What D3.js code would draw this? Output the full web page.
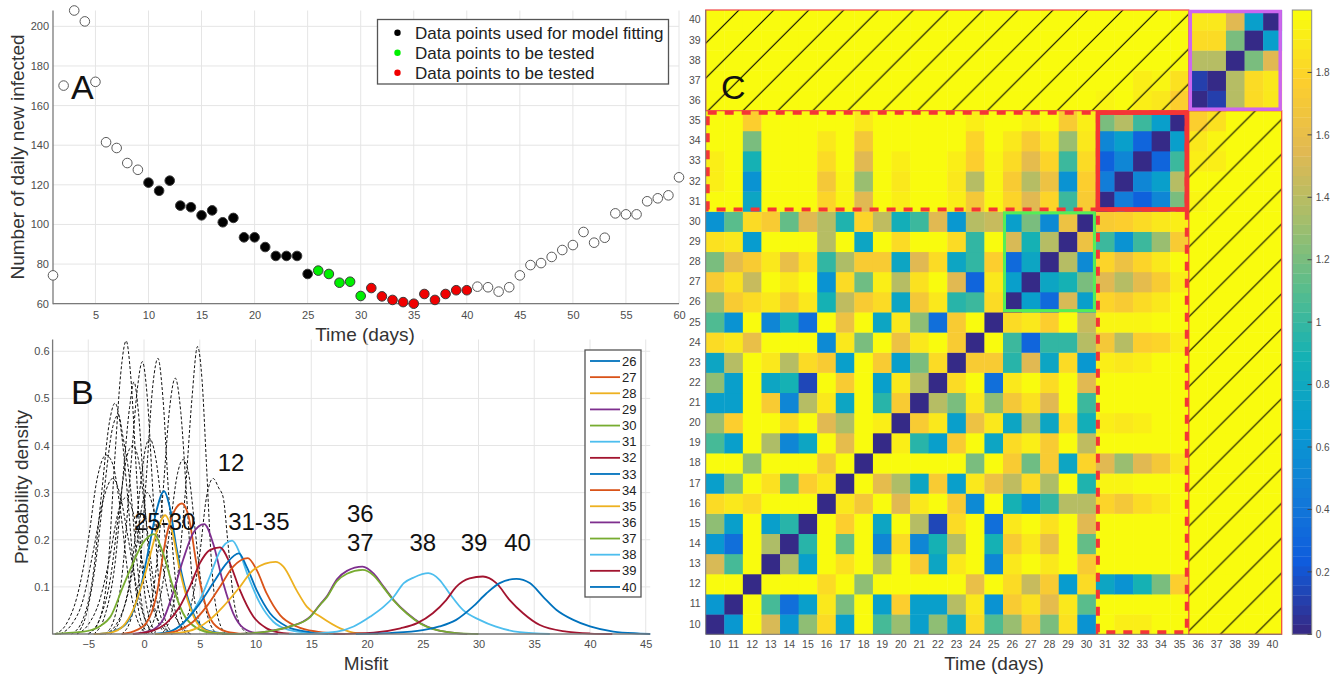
<!doctype html>
<html lang="en">
<head>
  <meta charset="utf-8">
  <title>Daily new infected, misfit densities and misfit matrix</title>
  <script src="https://d3js.org/d3.v7.min.js"></script>
<style>
body { margin: 0; background: #fff; }
svg { font-family: "Liberation Sans", Arial, sans-serif; }
</style>
</head>
<body>
<svg width="1343" height="679"></svg>
<script>

// ---- panel A data: daily new infected, days 1..60
let days_a = [1,2,3,4,5,6,7,8,9,10,11,12,13,14,15,16,17,18,19,20,21,22,23,24,25,26,27,28,29,30,
  31,32,33,34,35,36,37,38,39,40,41,42,43,44,45,46,47,48,49,50,51,52,53,54,55,56,57,58,59,60];
let new_infected = [74.3,170.1,208,202.5,172,141.5,138.6,131,127.6,121.1,117,122.1,109.5,108.7,104.6,
  107.1,101.1,103.3,93.5,93.5,88.6,84.1,84.1,84.1,75,76.7,75,70.6,71.1,63.9,67.9,63.7,61.9,60.8,60,
  64.9,61.9,64.9,66.8,66.8,68.6,68.3,66.1,68.3,74.3,79.5,80.5,83.6,87.1,89.6,96.2,90.8,93.3,105.6,
  105.1,105.1,111.7,113.2,114.7,123.8];
let fit_range = [10, 25];
let green_range = [26, 30];
let red_range = [31, 40];
let legend_a = ['Data points used for model fitting', 'Data points to be tested', 'Data points to be tested'];

// ---- panel B data: misfit densities [misfit, density]
let test_days = [26,27,28,29,30,31,32,33,34,35,36,37,38,39,40];
let test_curves = [
  [[-4,0],[-2.5,0.008],[-1.5,0.025],[-0.4,0.09],[0.5,0.19],[1.1,0.26],[1.8,0.303],[2.3,0.27],[2.9,0.185],[3.8,0.087],[4.7,0.03],[5.9,0.006],[8,0]],
  [[-2,0],[-1,0.005],[0.2,0.023],[1.1,0.08],[2.0,0.207],[2.7,0.26],[3.4,0.277],[4.0,0.249],[4.7,0.15],[5.3,0.08],[6.2,0.023],[7.4,0.005],[9,0]],
  [[-4.5,0],[-3,0.003],[-1.9,0.016],[-1.0,0.05],[0.2,0.136],[1.1,0.214],[1.9,0.252],[2.5,0.22],[3.2,0.136],[4.1,0.058],[5.0,0.016],[6.2,0.003],[8,0]],
  [[-1,0],[0.5,0.006],[1.7,0.03],[2.6,0.087],[3.5,0.157],[4.4,0.214],[5.4,0.233],[6.2,0.192],[7.1,0.108],[8.0,0.044],[8.9,0.013],[10.1,0.002],[12,0]],
  [[-8,0],[-7,0.002],[-5.4,0.005],[-4,0.016],[-3,0.037],[-1.9,0.1],[-1,0.15],[-0.1,0.193],[0.9,0.212],[1.7,0.172],[2.6,0.1],[3.5,0.044],[4.7,0.013],[6.2,0.002],[8,0]],
  [[1,0],[2.6,0.008],[3.8,0.03],[5.0,0.072],[5.9,0.122],[6.8,0.175],[7.9,0.198],[8.6,0.171],[9.35,0.122],[10.4,0.065],[11.6,0.026],[13.1,0.008],[14.9,0.002],[16.5,0]],
  [[-1,0],[0.5,0.005],[2.0,0.023],[3.2,0.058],[4.1,0.1],[5.0,0.15],[5.9,0.178],[6.8,0.184],[7.7,0.15],[8.6,0.093],[9.8,0.037],[11,0.012],[12.5,0.002],[14,0]],
  [[1,0],[2.6,0.008],[3.8,0.03],[5.0,0.065],[6.2,0.108],[7.4,0.15],[8.5,0.171],[9.2,0.143],[10.1,0.093],[11.3,0.044],[12.8,0.016],[14.6,0.005],[16.5,0.001],[18,0]],
  [[1.5,0],[2.9,0.006],[4.4,0.026],[5.6,0.058],[6.8,0.1],[8.0,0.143],[9.3,0.161],[10.1,0.136],[11.0,0.086],[12.2,0.04],[13.7,0.016],[15.5,0.005],[18,0]],
  [[1,0],[2.9,0.002],[4.7,0.012],[5.9,0.03],[7.1,0.058],[8.6,0.1],[9.8,0.136],[11.8,0.153],[12.5,0.143],[13.7,0.092],[14.6,0.058],[15.8,0.037],[17.6,0.012],[19.1,0.002],[21,0]],
  [[7,0],[9,0.001],[11,0.005],[13.1,0.016],[14.9,0.037],[15.8,0.063],[16.4,0.08],[17.3,0.116],[18.2,0.134],[19.6,0.143],[20.6,0.128],[21.5,0.1],[22.4,0.072],[23.6,0.044],[24.8,0.023],[26.3,0.008],[28,0.002],[29,0]],
  [[7,0],[9,0.001],[11,0.005],[13.1,0.016],[14.9,0.036],[15.8,0.062],[16.4,0.078],[17.3,0.112],[18.2,0.128],[19.6,0.136],[20.6,0.124],[21.5,0.098],[22.4,0.071],[23.6,0.043],[24.8,0.022],[26.3,0.008],[28,0.002],[30,0]],
  [[13,0],[15.2,0.001],[17.3,0.005],[18.8,0.016],[20.3,0.037],[21.5,0.058],[22.4,0.079],[23.3,0.108],[24.2,0.12],[25.5,0.129],[26.5,0.115],[27.4,0.086],[28.6,0.051],[30.1,0.03],[31.5,0.016],[33.7,0.004],[36.4,0]],
  [[17,0],[20.6,0.003],[23.0,0.012],[24.5,0.023],[25.9,0.044],[27.1,0.072],[28.0,0.1],[29.2,0.118],[30.4,0.122],[31.6,0.108],[32.8,0.072],[34,0.044],[35.5,0.019],[37.9,0.005],[40,0.001],[42,0]],
  [[19,0],[22,0.002],[25,0.008],[26.5,0.016],[28,0.03],[29.5,0.058],[30.7,0.086],[31.9,0.108],[33.4,0.117],[34.6,0.108],[35.8,0.079],[37,0.051],[38.5,0.03],[40,0.016],[42.1,0.005],[44.5,0.001],[45.4,0]]
];
// dashed densities of the fitting days
let fit_curves = [
  [[-5,0],[-4,0.03],[-3.2,0.15],[-2.6,0.38],[-2.1,0.55],[-1.6,0.622],[-1.2,0.55],[-0.7,0.35],[-0.2,0.15],[0.4,0.04],[1.2,0]],
  [[1.5,0],[2.3,0.03],[3.0,0.12],[3.7,0.3],[4.3,0.5],[4.8,0.61],[5.2,0.54],[5.6,0.36],[6.0,0.17],[6.5,0.05],[7.3,0]],
  [[-3.5,0],[-2.7,0.03],[-1.9,0.14],[-1.2,0.35],[-0.6,0.52],[-0.15,0.578],[0.3,0.5],[0.8,0.3],[1.3,0.12],[1.9,0.03],[2.7,0]],
  [[-2,0],[-1.2,0.03],[-0.4,0.13],[0.2,0.33],[0.8,0.53],[1.25,0.585],[1.7,0.5],[2.2,0.3],[2.8,0.12],[3.4,0.03],[4.2,0]],
  [[-4.5,0],[-3.5,0.04],[-2.6,0.15],[-1.9,0.33],[-1.3,0.48],[-0.9,0.535],[-0.5,0.47],[0,0.3],[0.6,0.12],[1.2,0.03],[2,0]],
  [[-0.5,0],[0.3,0.03],[1.0,0.12],[1.7,0.3],[2.3,0.48],[2.8,0.543],[3.3,0.47],[3.8,0.3],[4.3,0.12],[4.9,0.03],[5.6,0]],
  [[-6.5,0],[-5.5,0.03],[-4.6,0.12],[-3.8,0.3],[-3.1,0.45],[-2.6,0.49],[-2.1,0.44],[-1.5,0.3],[-0.9,0.13],[-0.3,0.03],[0.5,0]],
  [[-6,0],[-5.2,0.04],[-4.4,0.14],[-3.6,0.3],[-2.8,0.44],[-2.3,0.465],[-1.9,0.42],[-1.3,0.33],[-0.7,0.17],[-0.1,0.05],[0.8,0]],
  [[-3,0],[-2,0.04],[-1.1,0.14],[-0.4,0.3],[0.1,0.39],[0.5,0.415],[1.0,0.38],[1.6,0.27],[2.3,0.12],[3.0,0.03],[3.8,0]],
  [[-8,0],[-7,0.02],[-6,0.08],[-5,0.2],[-4.2,0.33],[-3.4,0.38],[-2.8,0.36],[-2.1,0.26],[-1.4,0.12],[-0.6,0.03],[0.3,0]],
  [[0,0],[0.9,0.03],[1.7,0.11],[2.4,0.24],[3.0,0.34],[3.5,0.37],[4.0,0.34],[4.5,0.24],[5.1,0.11],[5.8,0.03],[6.6,0]],
  [[-7.5,0],[-6.5,0.02],[-5.5,0.07],[-4.6,0.17],[-3.6,0.29],[-2.8,0.33],[-2.2,0.3],[-1.4,0.2],[-0.6,0.09],[0.3,0.02],[1.2,0]],
  [[2.5,0],[3.5,0.02],[4.3,0.07],[5.0,0.17],[5.6,0.29],[6.2,0.33],[6.7,0.31],[7.1,0.29],[7.5,0.2],[8.0,0.08],[8.6,0.02],[9.4,0]],
  [[-6,0],[-5,0.02],[-4,0.07],[-3.1,0.16],[-2.3,0.26],[-1.6,0.29],[-1.0,0.26],[-0.2,0.16],[0.6,0.07],[1.5,0.02],[2.5,0]],
  [[-5,0],[-4,0.03],[-3,0.12],[-2.2,0.27],[-1.5,0.38],[-1.0,0.40],[-0.5,0.37],[0.1,0.26],[0.8,0.12],[1.6,0.03],[2.5,0]],
  [[-3.5,0],[-2.5,0.02],[-1.5,0.08],[-0.7,0.18],[-0.2,0.27],[0.3,0.3],[0.8,0.27],[1.5,0.17],[2.3,0.07],[3.2,0.02],[4.2,0]]
];
let group_labels = ['12', '25-30', '31-35', '36', '37', '38', '39', '40'];
let group_label_at = [[7.8,0.345],[1.85,0.22],[10.3,0.22],[19.4,0.237],[19.4,0.177],[25.0,0.177],[29.6,0.177],[33.5,0.177]];

// ---- panel C data: symmetric misfit matrix, lower triangle rows (day 10..40)
let heat_days = [10,11,12,13,14,15,16,17,18,19,20,21,22,23,24,25,26,27,28,29,30,31,32,33,34,35,36,37,38,39,40];
let diag_value = 0.03;
let misfit_lower = [
  [],
  [0.65],
  [1.98,1.98],
  [1.5,1.05,1.98],
  [0.65,0.35,1.98,1.35],
  [1.25,0.7,1.98,0.7,0.95],
  [1.82,1.9,1.84,1.98,1.98,1.98],
  [0.7,1.2,1.98,1.86,1.15,1.78,1.9],
  [1.98,1.98,1.25,1.98,1.98,1.98,1.7,1.98],
  [1.05,0.7,1.98,1.35,0.5,0.75,1.98,1.58,1.98],
  [1.3,1.75,1.98,1.98,1.82,1.98,1.55,1.35,1.98,1.92],
  [0.7,0.7,1.98,1.72,0.5,1.4,1.9,0.75,1.98,0.95,1.72],
  [1.25,0.7,1.98,0.75,0.88,0.15,1.98,1.72,1.98,0.7,1.9,1.4],
  [0.78,1.4,1.98,1.88,1.4,1.82,1.72,0.7,1.98,1.72,0.7,1.2,1.82],
  [1.82,1.9,1.6,1.98,1.98,1.98,0.55,1.88,1.2,1.98,1.65,1.9,1.98,1.72],
  [1.08,0.6,1.98,0.5,0.9,0.35,1.98,1.65,1.98,0.75,1.9,1.28,0.35,1.72,1.98],
  [1.3,1.72,1.84,1.9,1.72,1.88,0.88,1.42,1.74,1.84,0.75,1.7,1.9,0.95,1.0,1.84],
  [1.72,1.85,1.45,1.98,1.9,1.98,0.6,1.82,1.18,1.92,1.4,1.87,1.98,1.55,0.3,1.9,0.7],
  [1.2,1.58,1.74,1.88,1.62,1.86,0.97,1.35,1.72,1.74,0.78,1.55,1.84,0.78,0.98,1.76,0.32,0.75],
  [1.85,1.9,0.68,1.98,1.98,1.98,1.4,1.98,0.78,1.98,1.84,1.98,1.98,1.82,0.98,1.98,1.5,0.9,1.4],
  [0.62,1.1,1.83,1.73,1.15,1.56,1.4,0.92,1.8,1.43,0.87,1.0,1.55,0.63,1.4,1.45,0.7,1.2,0.55,1.65],
  [1.98,1.98,0.75,1.98,1.98,1.98,1.8,1.95,1.55,1.98,1.93,1.98,1.98,1.93,1.7,1.96,1.8,1.55,1.8,1.0,1.72],
  [1.92,1.98,0.6,1.98,1.98,1.98,1.7,1.95,1.3,1.98,1.9,1.98,1.98,1.88,1.4,1.95,1.72,1.4,1.65,0.6,1.75,0.45],
  [1.92,1.98,0.9,1.98,1.98,1.98,1.82,1.98,1.55,1.98,1.93,1.98,1.98,1.93,1.75,1.96,1.82,1.58,1.8,1.0,1.82,0.25,0.5],
  [1.98,1.98,1.2,1.98,1.98,1.98,1.88,1.98,1.7,1.98,1.98,1.98,1.98,1.98,1.8,1.98,1.9,1.72,1.9,1.3,1.9,0.5,0.7,0.3],
  [1.98,1.98,1.75,1.98,1.98,1.98,1.98,1.98,1.9,1.98,1.98,1.98,1.98,1.98,1.92,1.98,1.98,1.92,1.98,1.72,1.92,1.2,1.4,1.0,0.7],
  [1.98,1.98,1.98,1.98,1.98,1.98,1.98,1.98,1.98,1.98,1.98,1.98,1.98,1.98,1.98,1.98,1.98,1.98,1.98,1.98,1.98,1.94,1.98,1.92,1.9,1.75],
  [1.98,1.98,1.98,1.98,1.98,1.98,1.98,1.98,1.98,1.98,1.98,1.98,1.98,1.98,1.98,1.98,1.98,1.98,1.98,1.98,1.98,1.98,1.98,1.93,1.95,1.86,0.1],
  [1.98,1.98,1.98,1.98,1.98,1.98,1.98,1.98,1.98,1.98,1.98,1.98,1.98,1.98,1.98,1.98,1.98,1.98,1.98,1.98,1.98,1.98,1.98,1.98,1.98,1.98,1.4,1.4],
  [1.98,1.98,1.98,1.98,1.98,1.98,1.98,1.98,1.98,1.98,1.98,1.98,1.98,1.98,1.98,1.98,1.98,1.98,1.98,1.98,1.98,1.98,1.98,1.98,1.98,1.98,1.82,1.82,1.2],
  [1.98,1.98,1.98,1.98,1.98,1.98,1.98,1.98,1.98,1.98,1.98,1.98,1.98,1.98,1.98,1.98,1.98,1.98,1.98,1.98,1.98,1.98,1.98,1.98,1.98,1.98,1.9,1.9,1.55,0.7]
];
let colorbar_ticks = [0,0.2,0.4,0.6,0.8,1,1.2,1.4,1.6,1.8];

// matlab line colours
let line_colors = ['#0072BD','#D95319','#EDB120','#7E2F8E','#77AC30','#4DBEEE','#A2142F'];
// parula anchors (approx)
let parula_stops = ['#352A87','#0F5CDD','#127DD8','#079CCF','#15B1B4','#59BD8C','#A5BE6B','#E1B952','#FCCE2E','#F9FB0E'];

let svg = d3.select('svg');
let defs = svg.append('defs');
let gridColor = '#e5e5e5';
let axisColor = '#7a7a7a';
let fmt = d3.format('');

function styleTicks(g, size) {
  g.select('.domain').remove();
  g.selectAll('.tick line').remove();
  g.attr('font-family', null);
  g.selectAll('.tick text').attr('fill', '#4d4d4d').style('font-size', size + 'px');
}

/* ================= panel A ================= */
let xA = d3.scaleLinear().domain([1, 60]).range([53, 679]);
let yA = d3.scaleLinear().domain([60, 208]).range([303.7, 10.5]);
let ticksXA = [5,10,15,20,25,30,35,40,45,50,55,60];
let ticksYA = [60,80,100,120,140,160,180,200];

let gA = svg.append('g');
gA.selectAll('.vgrid').data(ticksXA).enter().append('line')
  .attr('x1', d => xA(d)).attr('x2', d => xA(d))
  .attr('y1', yA.range()[1]).attr('y2', yA.range()[0])
  .attr('stroke', gridColor);
gA.selectAll('.hgrid').data(ticksYA).enter().append('line')
  .attr('x1', xA.range()[0]).attr('x2', xA.range()[1])
  .attr('y1', d => yA(d)).attr('y2', d => yA(d))
  .attr('stroke', gridColor);

gA.append('g').attr('transform', 'translate(0,' + yA.range()[0] + ')')
  .call(d3.axisBottom(xA).tickValues(ticksXA).tickFormat(fmt).tickSize(0).tickPadding(7.5))
  .call(g => styleTicks(g, 11));
gA.append('g').attr('transform', 'translate(' + xA.range()[0] + ',0)')
  .call(d3.axisLeft(yA).tickValues(ticksYA).tickFormat(fmt).tickSize(0).tickPadding(4))
  .call(g => styleTicks(g, 11));

gA.append('line').attr('x1', xA.range()[0]).attr('x2', xA.range()[0])
  .attr('y1', yA.range()[1]).attr('y2', yA.range()[0] + 0.5)
  .attr('stroke', axisColor).attr('stroke-width', 1.3);
gA.append('line').attr('x1', xA.range()[0]).attr('x2', xA.range()[1])
  .attr('y1', yA.range()[0]).attr('y2', yA.range()[0])
  .attr('stroke', axisColor).attr('stroke-width', 1.3);

function pointFill(day) {
  if (day >= fit_range[0] && day <= fit_range[1]) return '#000';
  if (day >= green_range[0] && day <= green_range[1]) return '#00f000';
  if (day >= red_range[0] && day <= red_range[1]) return '#f00000';
  return '#fff';
}

gA.selectAll('circle.pt').data(days_a).enter().append('circle')
  .attr('class', 'pt')
  .attr('cx', d => xA(d))
  .attr('cy', (d, i) => yA(new_infected[i]))
  .attr('r', 4.8)
  .attr('fill', d => pointFill(d))
  .attr('stroke', d => pointFill(d) === '#fff' ? '#5a5a5a' : '#3a3a3a')
  .attr('stroke-width', 1);

gA.append('text').attr('x', 71).attr('y', 99).text('A')
  .style('font-size', '34px').attr('fill', '#111');

gA.append('text').attr('transform', 'translate(24,157) rotate(-90)')
  .attr('text-anchor', 'middle').style('font-size', '19px').attr('fill', '#333')
  .text('Number of daily new infected');
gA.append('text').attr('x', 365).attr('y', 341).attr('text-anchor', 'middle')
  .style('font-size', '19px').attr('fill', '#333').text('Time (days)');

// legend A
let legA = gA.append('g');
legA.append('rect').attr('x', 377.5).attr('y', 19.5).attr('width', 291).attr('height', 64.5)
  .attr('fill', '#fff').attr('stroke', '#555').attr('stroke-width', 1.3);
let legColors = ['#000', '#00f000', '#f00000'];
legend_a.forEach(function(t, i) {
  legA.append('circle').attr('cx', 397.5).attr('cy', 32.7 + i * 20).attr('r', 3.2)
    .attr('fill', legColors[i]);
  legA.append('text').attr('x', 415).attr('y', 38.6 + i * 20)
    .style('font-size', '17px').attr('fill', '#222').text(t);
});

/* ================= panel B ================= */
let xB = d3.scaleLinear().domain([-8.2, 45.4]).range([52.6, 650.2]);
let yB = d3.scaleLinear().domain([0, 0.625]).range([634, 339.5]);
let ticksXB = [-5,0,5,10,15,20,25,30,35,40,45];
let ticksYB = [0.1,0.2,0.3,0.4,0.5,0.6];

let gB = svg.append('g');
gB.selectAll('.vgrid').data(ticksXB).enter().append('line')
  .attr('x1', d => xB(d)).attr('x2', d => xB(d))
  .attr('y1', yB.range()[1]).attr('y2', yB.range()[0])
  .attr('stroke', gridColor);
gB.selectAll('.hgrid').data(ticksYB).enter().append('line')
  .attr('x1', xB.range()[0]).attr('x2', xB.range()[1])
  .attr('y1', d => yB(d)).attr('y2', d => yB(d))
  .attr('stroke', gridColor);

gB.append('g').attr('transform', 'translate(0,' + yB.range()[0] + ')')
  .call(d3.axisBottom(xB).tickValues(ticksXB).tickFormat(fmt).tickSize(0).tickPadding(6.5))
  .call(g => styleTicks(g, 11));
gB.append('g').attr('transform', 'translate(' + xB.range()[0] + ',0)')
  .call(d3.axisLeft(yB).tickValues(ticksYB).tickFormat(d3.format('.1f')).tickSize(0).tickPadding(3))
  .call(g => styleTicks(g, 11));

let lineB = d3.line().x(d => xB(d[0])).y(d => yB(d[1])).curve(d3.curveMonotoneX);

gB.selectAll('path.fit').data(fit_curves).enter().append('path')
  .attr('class', 'fit').attr('d', lineB)
  .attr('fill', 'none').attr('stroke', '#111').attr('stroke-width', 1)
  .attr('stroke-dasharray', '3,2');

gB.selectAll('path.test').data(test_curves).enter().append('path')
  .attr('class', 'test').attr('d', lineB)
  .attr('fill', 'none').attr('stroke', (d, i) => line_colors[i % 7]).attr('stroke-width', 1.8);

gB.append('line').attr('x1', xB.range()[0]).attr('x2', xB.range()[0])
  .attr('y1', yB.range()[1]).attr('y2', yB.range()[0] + 0.5)
  .attr('stroke', axisColor).attr('stroke-width', 1.3);
gB.append('line').attr('x1', xB.range()[0]).attr('x2', xB.range()[1])
  .attr('y1', yB.range()[0]).attr('y2', yB.range()[0])
  .attr('stroke', axisColor).attr('stroke-width', 1.3);

group_labels.forEach(function(t, i) {
  gB.append('text').attr('x', xB(group_label_at[i][0])).attr('y', yB(group_label_at[i][1]))
    .attr('text-anchor', 'middle').style('font-size', '24px').attr('fill', '#111').text(t);
});

gB.append('text').attr('x', 71).attr('y', 404).text('B')
  .style('font-size', '34px').attr('fill', '#111');
gB.append('text').attr('transform', 'translate(28,487) rotate(-90)')
  .attr('text-anchor', 'middle').style('font-size', '19px').attr('fill', '#333')
  .text('Probability density');
gB.append('text').attr('x', 366).attr('y', 670).attr('text-anchor', 'middle')
  .style('font-size', '19px').attr('fill', '#333').text('Misfit');

// legend B
let legB = gB.append('g');
legB.append('rect').attr('x', 585).attr('y', 350).attr('width', 56).attr('height', 247)
  .attr('fill', '#fff').attr('stroke', '#555').attr('stroke-width', 1.3);
test_days.forEach(function(d, i) {
  let yy = 361 + i * 16.14;
  legB.append('line').attr('x1', 590).attr('x2', 620).attr('y1', yy).attr('y2', yy)
    .attr('stroke', line_colors[i % 7]).attr('stroke-width', 1.8);
  legB.append('text').attr('x', 622).attr('y', yy + 4.6)
    .style('font-size', '13px').attr('fill', '#222').text(d);
});

/* ================= panel C ================= */
let xC = d3.scaleBand().domain(heat_days).range([705.7, 1281.7]);
let yC = d3.scaleBand().domain(heat_days.slice().reverse()).range([10, 634.3]);
let bw = xC.bandwidth(), bh = yC.bandwidth();

let parulaBase = d3.scaleLinear()
  .domain(parula_stops.map((c, i) => i / (parula_stops.length - 1)))
  .range(parula_stops).interpolate(d3.interpolateRgb);
let cmin = 0, cmax = 2, nLevels = 64;
function parula(v) {
  let k = Math.floor((v - cmin) / (cmax - cmin) * nLevels);
  k = Math.max(0, Math.min(nLevels - 1, k));
  return parulaBase(k / (nLevels - 1));
}

let cells = [];
heat_days.forEach(function(r, i) {
  heat_days.forEach(function(c, j) {
    let v = i === j ? diag_value : (i > j ? misfit_lower[i][j] : misfit_lower[j][i]);
    cells.push({ row: r, col: c, v: v });
  });
});

let gC = svg.append('g');
gC.selectAll('rect.cell').data(cells).enter().append('rect')
  .attr('class', 'cell')
  .attr('x', d => xC(d.col)).attr('y', d => yC(d.row))
  .attr('width', bw + 0.4).attr('height', bh + 0.4)
  .attr('fill', d => parula(d.v));

function addHatch(id, ox) {
  let s = 34.9;
  let p = defs.append('pattern').attr('id', id).attr('patternUnits', 'userSpaceOnUse')
    .attr('x', ox).attr('y', 0).attr('width', s).attr('height', s);
  p.append('path')
    .attr('d', 'M0,' + s + 'L' + s + ',0M-2,2L2,-2M' + (s - 2) + ',' + (s + 2) + 'L' + (s + 2) + ',' + (s - 2))
    .attr('stroke', '#000').attr('stroke-width', 1.1);
}
addHatch('hatchTop', 16.1);
addHatch('hatchRight', 5);

function box(c0, c1, r0, r1, inset) {
  inset = inset || 0;
  return {
    x: xC(c0) + inset, y: yC(r1) + inset,
    w: xC(c1) + bw - xC(c0) - 2 * inset, h: yC(r0) + bh - yC(r1) - 2 * inset
  };
}
function drawBox(b, attrs) {
  let r = gC.append('rect').attr('x', b.x).attr('y', b.y).attr('width', b.w).attr('height', b.h);
  Object.keys(attrs).forEach(k => r.attr(k, attrs[k]));
  return r;
}

// hatched (not available) areas
let topHatch = box(10, 35, 36, 40);
let rightHatch = box(36, 40, 10, 35);
drawBox(topHatch, { fill: 'url(#hatchTop)', stroke: '#f04848', 'stroke-width': 1.2 });
drawBox(rightHatch, { fill: 'url(#hatchRight)', stroke: '#f04848', 'stroke-width': 1.2 });

// dashed red areas
let dashAttrs = { fill: 'none', stroke: '#f53535', 'stroke-width': 4, 'stroke-dasharray': '9,8' };
drawBox(box(10, 35, 31, 35, 2), dashAttrs);
drawBox(box(31, 35, 10, 35, 2), dashAttrs);

// solid boxes
drawBox(box(26, 30, 26, 30, 1.5), { fill: 'none', stroke: '#55ee55', 'stroke-width': 3 });
drawBox(box(31, 35, 31, 35, 2), { fill: 'none', stroke: '#f53535', 'stroke-width': 4.5 });
drawBox(box(36, 40, 36, 40, 1.5), { fill: 'none', stroke: '#cc66ee', 'stroke-width': 3.5 });

// axis lines
gC.append('line').attr('x1', 705.7).attr('x2', 705.7).attr('y1', 10).attr('y2', 634.3)
  .attr('stroke', axisColor).attr('stroke-width', 1);
gC.append('line').attr('x1', 705.7).attr('x2', 1281.7).attr('y1', 634.3).attr('y2', 634.3)
  .attr('stroke', axisColor).attr('stroke-width', 1);

gC.append('g').attr('transform', 'translate(0,634.3)')
  .call(d3.axisBottom(xC).tickSize(0).tickPadding(6.5))
  .call(g => styleTicks(g, 10.5));
gC.append('g').attr('transform', 'translate(705.7,0)')
  .call(d3.axisLeft(yC).tickSize(0).tickPadding(5))
  .call(g => styleTicks(g, 10.5));

gC.append('text').attr('x', 721).attr('y', 99).text('C')
  .style('font-size', '34px').attr('fill', '#111');
gC.append('text').attr('x', 994).attr('y', 670).attr('text-anchor', 'middle')
  .style('font-size', '19px').attr('fill', '#333').text('Time (days)');

// colorbar
let yCb = d3.scaleLinear().domain([cmin, cmax]).range([634.3, 10]);
let levels = d3.range(nLevels);
let gCb = svg.append('g');
gCb.selectAll('rect.lvl').data(levels).enter().append('rect')
  .attr('x', 1292.3).attr('width', 19.4)
  .attr('y', k => yCb(cmin + (k + 1) * (cmax - cmin) / nLevels))
  .attr('height', yCb(0) - yCb((cmax - cmin) / nLevels) + 0.3)
  .attr('fill', k => parulaBase(k / (nLevels - 1)));
gCb.append('rect').attr('x', 1292.3).attr('y', 10).attr('width', 19.4).attr('height', 624.3)
  .attr('fill', 'none').attr('stroke', '#8a8a8a').attr('stroke-width', 1);
gCb.selectAll('line.tk').data(colorbar_ticks).enter().append('line')
  .attr('x1', 1307.5).attr('x2', 1311.7)
  .attr('y1', d => yCb(d)).attr('y2', d => yCb(d))
  .attr('stroke', '#444').attr('stroke-width', 1);
gCb.append('g').attr('transform', 'translate(1311.7,0)')
  .call(d3.axisRight(yCb).tickValues(colorbar_ticks).tickSize(0).tickPadding(4)
    .tickFormat(d => fmt(+d.toFixed(1))))
  .call(g => styleTicks(g, 10));

</script>
</body>
</html>
